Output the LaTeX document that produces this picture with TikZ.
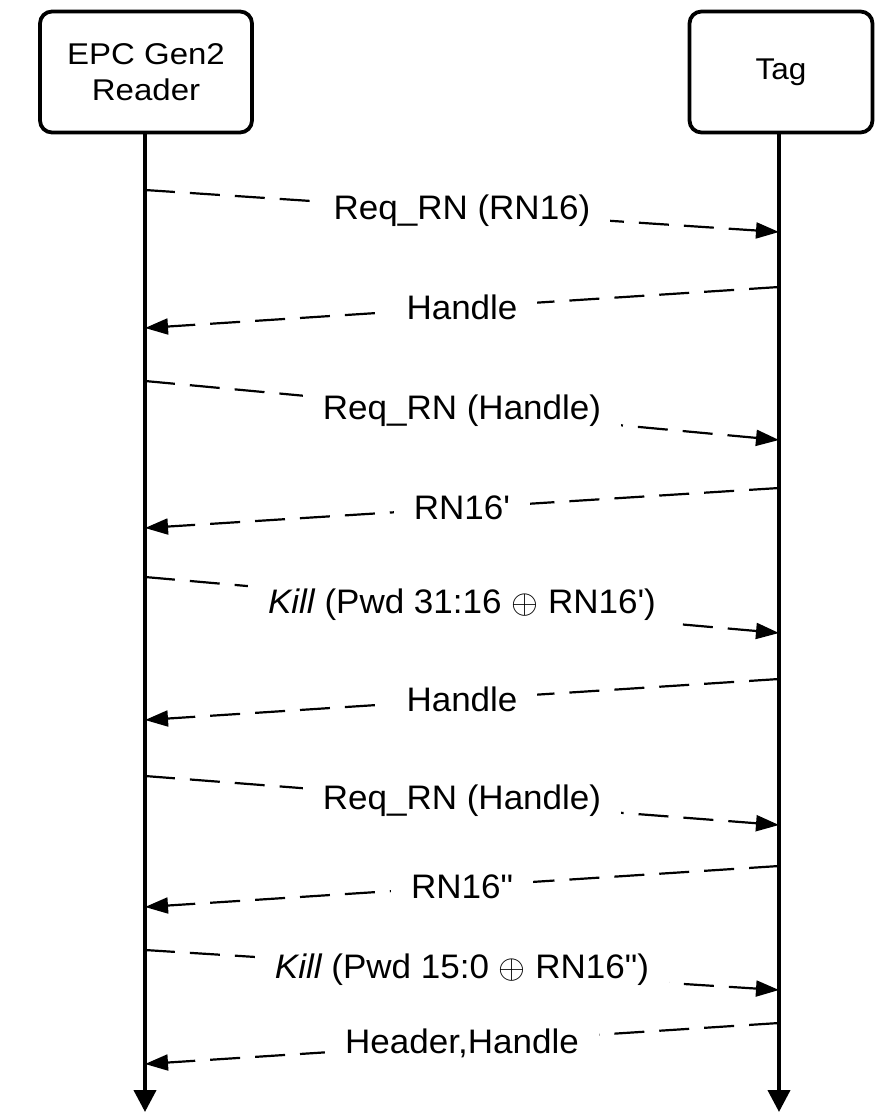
\documentclass[tikz,border=0pt]{standalone}
\usepackage{graphicx}
\usepackage{fontspec}
\setmainfont{Liberation Sans}
\newfontfamily\lab{Liberation Sans}
\usetikzlibrary{arrows.meta}
\newcommand{\widen}[2][1.03]{\scalebox{#1}[1]{#2}}
\newcommand{\xorsym}{\scalebox{1.35}{$\oplus$}}
\tikzset{
  actor/.style={draw, line width=3.8pt, rounded corners=12pt, fill=white, align=center, font=\lab\fontsize{30}{36}\selectfont, inner sep=0pt},
  life/.style={line width=4pt, -{Triangle[length=22pt,width=22pt]}},
  msg/.style={line width=2.2pt, dash pattern=on 30pt off 15pt, -{Triangle[length=23pt,width=16pt]}},
  mlab/.style={fill=white, inner xsep=20pt, inner ysep=4pt, font=\lab\fontsize{34}{40}\selectfont}
}
\begin{document}
\begin{tikzpicture}[x=1pt,y=-1pt]
\useasboundingbox (0,0) rectangle (895,1113);
\node[actor, minimum width=212pt, minimum height=121pt] (reader) at (146,72) {\widen[1.1]{EPC Gen2}\\\widen[1.1]{Reader}};
\node[actor, minimum width=183pt, minimum height=121pt] (tag) at (781,72) {\widen[1.05]{Tag}};
\coordinate (rend) at (145,1112);
\coordinate (tend) at (779,1112);
\draw[life] (reader.south -| rend) -- (rend);
\draw[life] (tag.south -| tend) -- (tend);
% message coordinates
\coordinate (a1) at (145,190);  \coordinate (b1) at (779,232);
\coordinate (a2) at (779,287);  \coordinate (b2) at (145,328);
\coordinate (a3) at (145,381);  \coordinate (b3) at (779,440);
\coordinate (a4) at (779,488);  \coordinate (b4) at (145,528);
\coordinate (a5) at (145,577);  \coordinate (b5) at (779,633);
\coordinate (a6) at (779,679);  \coordinate (b6) at (145,720);
\coordinate (a7) at (145,776);  \coordinate (b7) at (779,825);
\coordinate (a8) at (779,866);  \coordinate (b8) at (145,907);
\coordinate (a9) at (145,950);  \coordinate (b9) at (779,990);
\coordinate (a10) at (779,1023); \coordinate (b10) at (145,1064);
\draw[msg] (a1) -- node[mlab] (l1) {\widen{Req\_RN (RN16)}} (b1);
\draw[msg] (a2) -- node[mlab] (l2) {\widen{Handle}} (b2);
\draw[msg] (a3) -- node[mlab] (l3) {\widen{Req\_RN (Handle)}} (b3);
\draw[msg] (a4) -- node[mlab] (l4) {\widen{RN16\textquotesingle}} (b4);
\draw[msg] (a5) -- node[mlab] (l5) {\widen{\itshape Kill\upshape{} (Pwd 31:16 \xorsym{} RN16\textquotesingle)}} (b5);
\draw[msg] (a6) -- node[mlab] (l6) {\widen{Handle}} (b6);
\draw[msg] (a7) -- node[mlab] (l7) {\widen{Req\_RN (Handle)}} (b7);
\draw[msg] (a8) -- node[mlab] (l8) {\widen{RN16\textquotedbl}} (b8);
\draw[msg] (a9) -- node[mlab] (l9) {\widen{\itshape Kill\upshape{} (Pwd 15:0 \xorsym{} RN16\textquotedbl)}} (b9);
\draw[msg] (a10) -- node[mlab] (l10) {\widen{Header,Handle}} (b10);
\end{tikzpicture}
\end{document}
